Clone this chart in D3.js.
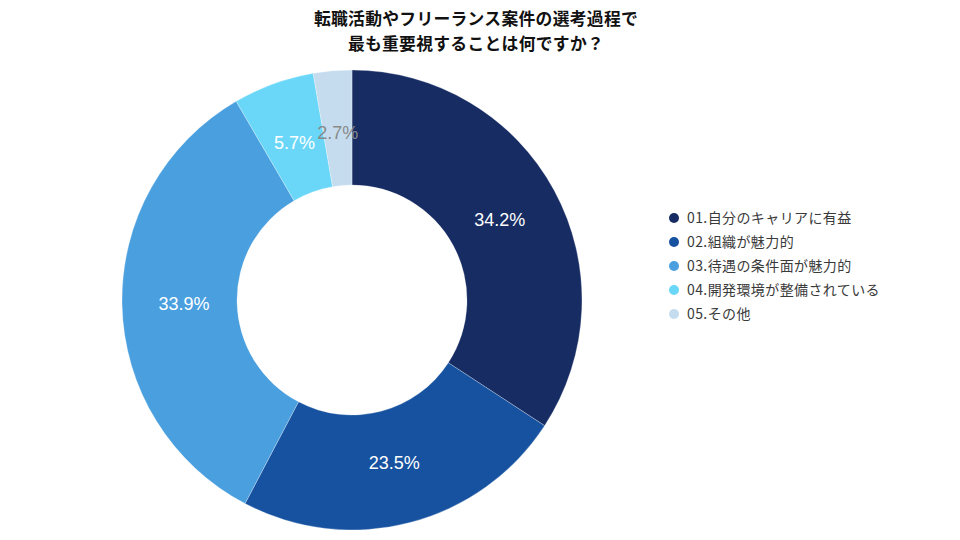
<!DOCTYPE html>
<html>
<head>
<meta charset="utf-8">
<script src="https://cdn.jsdelivr.net/npm/d3@7"></script>
<style>
	body { margin: 0; background: #fff; }
</style>
</head>
<body>
<div class="donut"></div>
<script>
const categories = [
	"01.自分のキャリアに有益",
	"02.組織が魅力的",
	"03.待遇の条件面が魅力的",
	"04.開発環境が整備されている",
	"05.その他"
];
const values = [34.2, 23.5, 33.9, 5.7, 2.7];
const colors = ["#172c63", "#1652a0", "#4a9fdf", "#6ad7f9", "#c4dcee"];
const labelColors = ["#fff", "#fff", "#fff", "#fff", "#8a8a8a"];
const titleLines = ["転職活動やフリーランス案件の選考過程で", "最も重要視することは何ですか？"];

const width = 960,
	height = 540;
const cx = 352,
	cy = 300,
	outerR = 230,
	innerR = 115;

const data = categories.map((c, i) => ({ name: c, value: values[i], i: i }));

const svg = d3
	.select(".donut")
	.append("svg")
	.attr("width", width)
	.attr("height", height);

// title
svg.append("g")
	.selectAll("text")
	.data(titleLines)
	.enter()
	.append("text")
	.attr("x", 476)
	.attr("y", (d, i) => 25 + i * 24.5)
	.attr("text-anchor", "middle")
	.attr("fill", "#111")
	.style("font", "bold 16.8px 'Noto Sans CJK JP', sans-serif")
	.style("letter-spacing", "0.3px")
	.text((d) => d);

const pie = d3.pie().sort(null).value((d) => d.value);
const arc = d3.arc().innerRadius(innerR).outerRadius(outerR);
// labels sit a little inside the band's middle
const labelArc = d3.arc().innerRadius(168).outerRadius(168);

const g = svg.append("g").attr("transform", "translate(" + cx + "," + cy + ")");

const arcs = pie(data);

g.selectAll("path")
	.data(arcs)
	.enter()
	.append("path")
	.attr("d", arc)
	.attr("fill", (d) => colors[d.data.i])
	.attr("stroke", "rgba(255,255,255,0.35)")
	.attr("stroke-width", 0.8);

g.selectAll("text")
	.data(arcs)
	.enter()
	.append("text")
	.attr("transform", (d) => "translate(" + labelArc.centroid(d) + ")")
	.attr("dy", "0.36em")
	.attr("text-anchor", "middle")
	.attr("fill", (d) => labelColors[d.data.i])
	.style("font", "18px 'Liberation Sans', Arial, sans-serif")
	.text((d) => d.data.value.toFixed(1) + "%");

// legend
const legend = svg
	.append("g")
	.attr("transform", "translate(674,218)")
	.selectAll("g")
	.data(data)
	.enter()
	.append("g")
	.attr("transform", (d, i) => "translate(0," + i * 24 + ")");

legend.append("circle").attr("r", 5).attr("fill", (d) => colors[d.i]);

legend
	.append("text")
	.attr("x", 13)
	.attr("dy", "0.36em")
	.attr("fill", "#3a3a3a")
	.style("font", "14px 'Noto Sans CJK JP', sans-serif")
	.style("letter-spacing", "0.4px")
	.text((d) => d.name);
</script>
</body>
</html>
